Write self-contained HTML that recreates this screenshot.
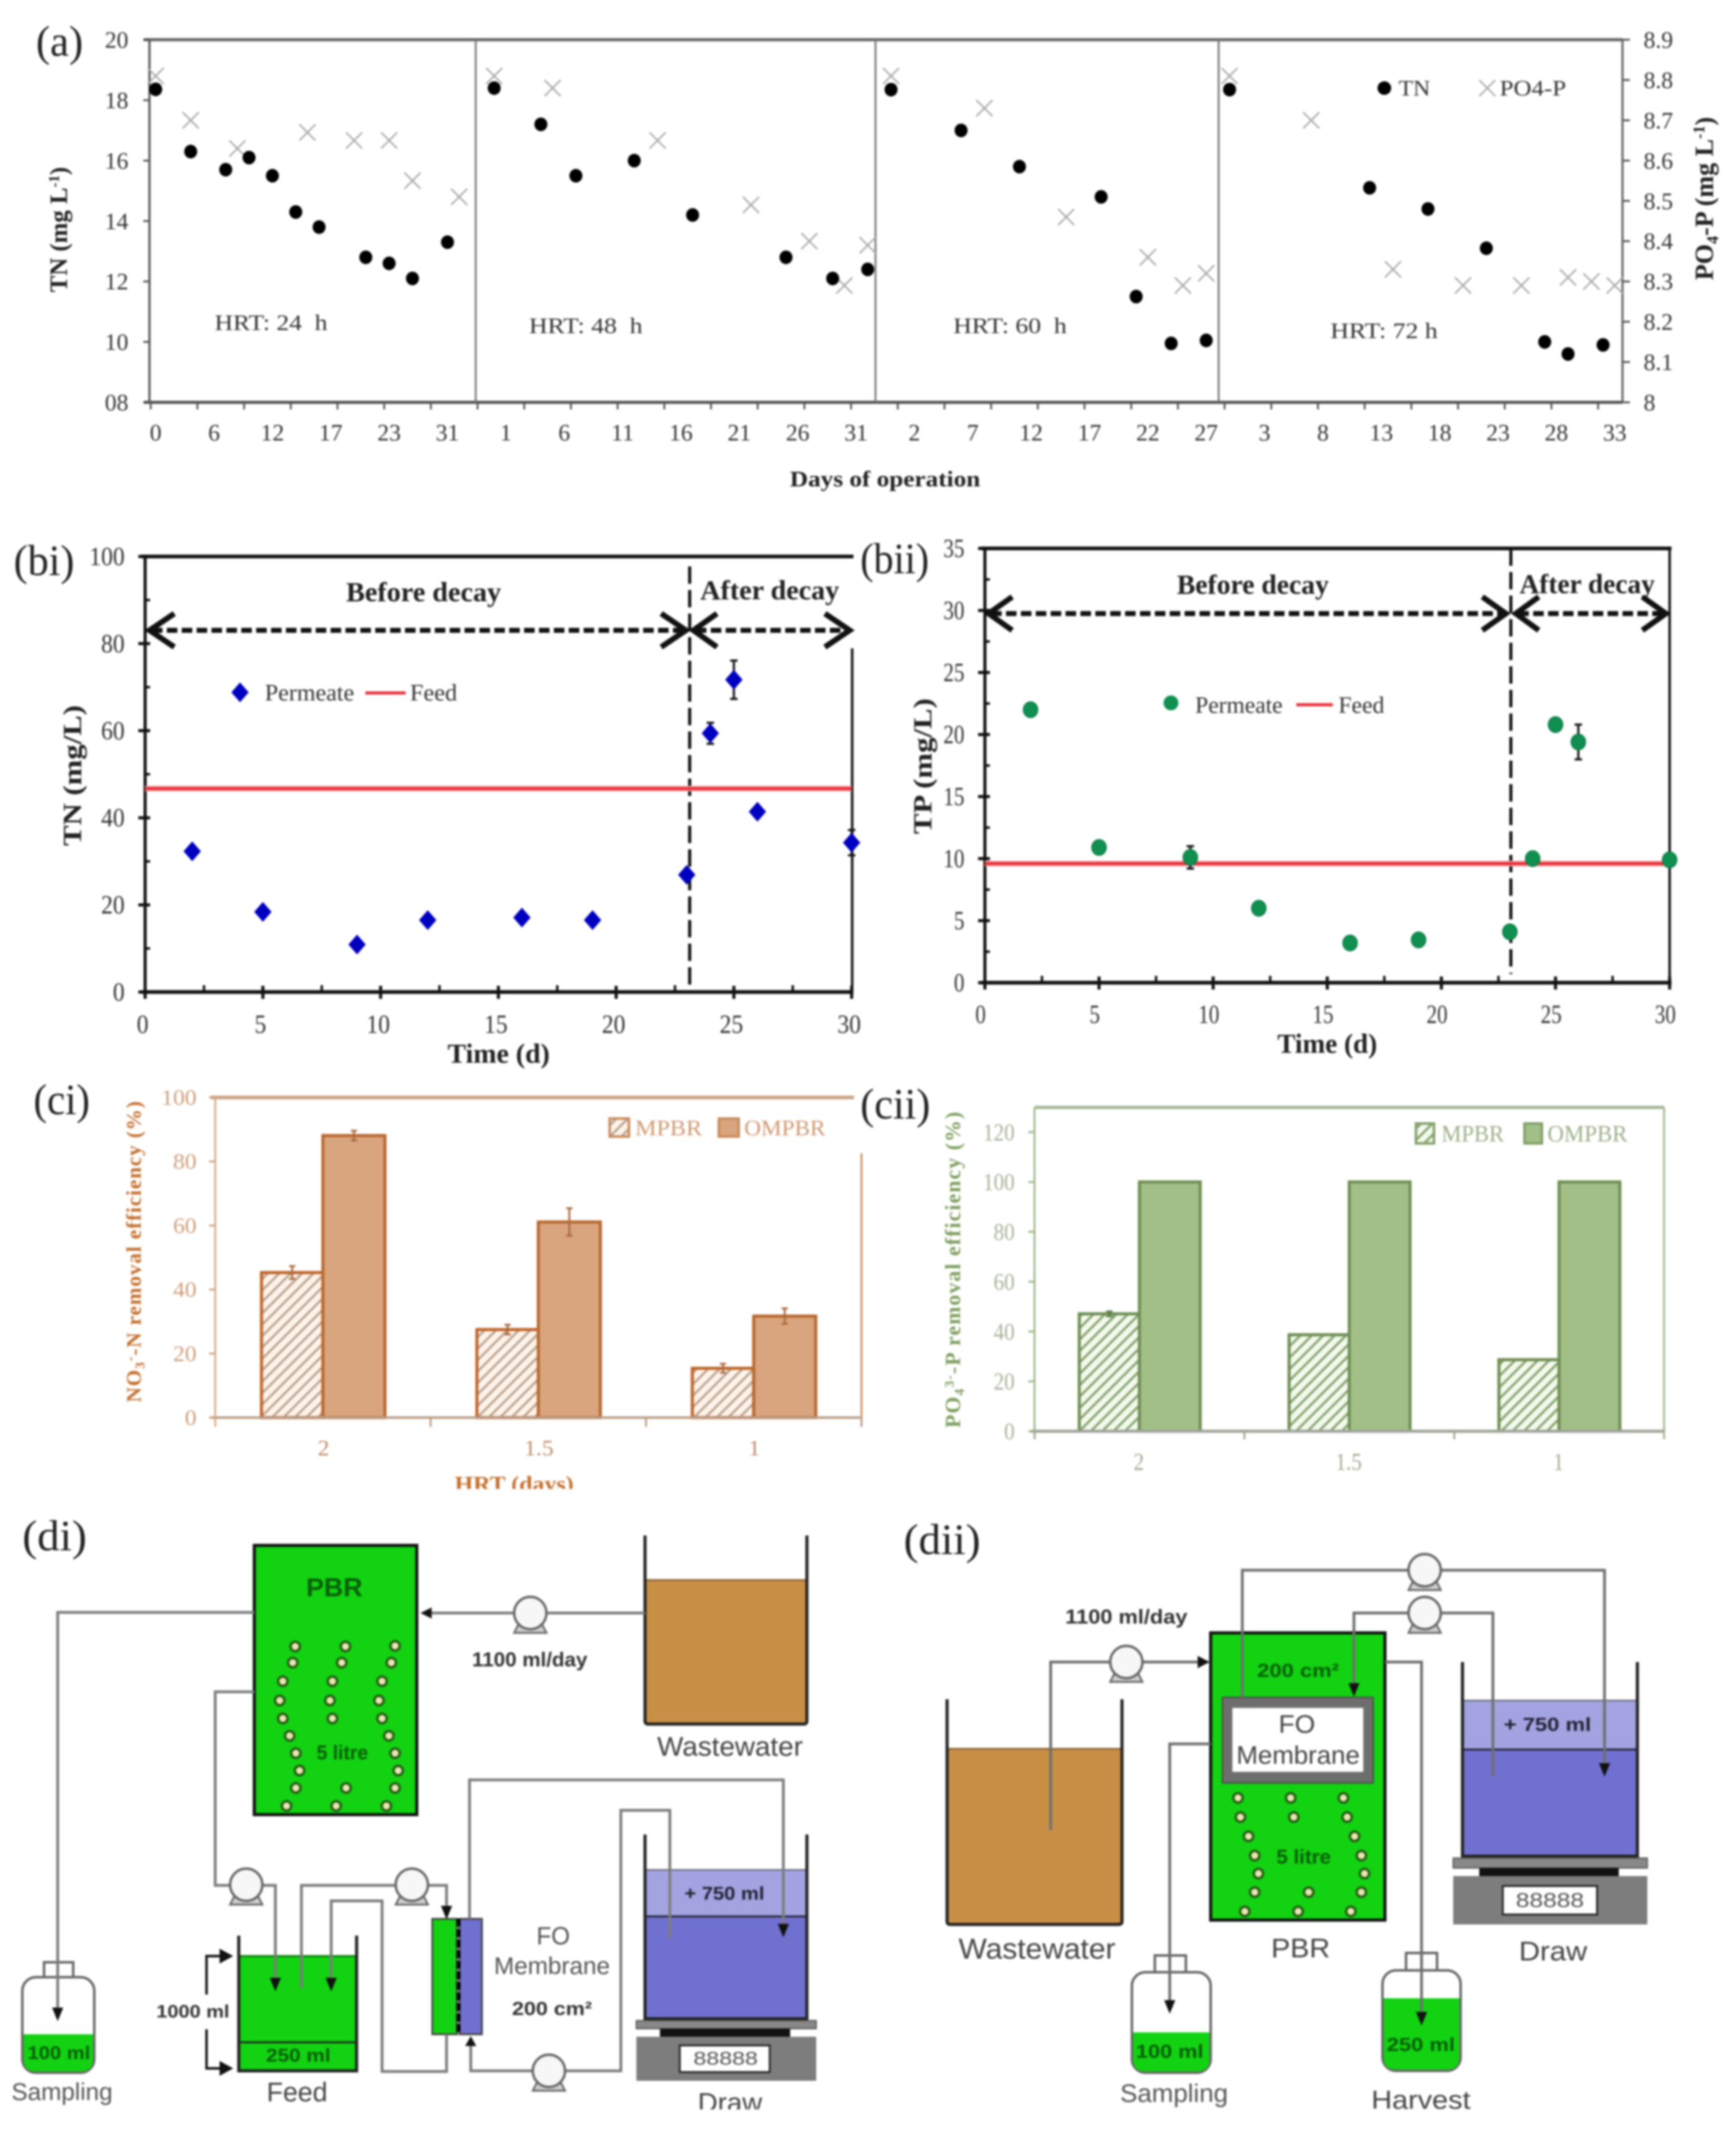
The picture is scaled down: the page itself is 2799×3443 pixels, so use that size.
<!DOCTYPE html>
<html lang="en">
<head>
<meta charset="utf-8">
<title>Nutrient removal figure</title>
<style>
html,body{margin:0;padding:0;background:#fff;}
#figure{display:block;filter:blur(1.5px);}
.serif{font-family:"Liberation Serif",serif;}
.sans{font-family:"Liberation Sans",sans-serif;}
</style>
</head>
<body>
<svg id="figure" width="2799" height="3443" viewBox="0 0 2799 3443">
<defs>
<pattern id="hatch-orange" width="13" height="13" patternUnits="userSpaceOnUse" patternTransform="rotate(45)">
<rect width="13" height="13" fill="#fdf3ea"/><rect width="3.5" height="13" fill="#b9a08c"/>
</pattern>
<pattern id="hatch-green" width="13" height="13" patternUnits="userSpaceOnUse" patternTransform="rotate(45)">
<rect width="13" height="13" fill="#f3f9ec"/><rect width="3.5" height="13" fill="#7f9f68"/>
</pattern>
<symbol id="pump" overflow="visible">
<path d="M-26,32 L-20,20 L20,20 L26,32 Z" fill="#cfcfcf" stroke="#666" stroke-width="3"/>
<ellipse cx="0" cy="0" rx="26" ry="26" fill="#f7f7f7" stroke="#666" stroke-width="4"/>
</symbol>
<symbol id="arrow-down" overflow="visible"><path d="M-9,-14 L9,-14 L0,8 Z" fill="#111"/></symbol>
</defs>

<rect x="0" y="0" width="2799" height="3443" fill="#fff"/>

<!-- PANEL A -->
<g id="panel-a">
<text class="serif" x="58" y="90" font-size="70" textLength="76" lengthAdjust="spacingAndGlyphs" fill="#222">(a)</text>
<line x1="232" y1="64" x2="2616" y2="64" stroke="#666" stroke-width="5"/>
<line x1="232" y1="648.5" x2="2616" y2="648.5" stroke="#555" stroke-width="5"/>
<line x1="241" y1="64" x2="241" y2="648" stroke="#555" stroke-width="3.5"/>
<line x1="2616" y1="64" x2="2616" y2="648" stroke="#666" stroke-width="3.5"/>
<g id="a-axes"></g>
<g id="a-marks"></g>
<text class="serif" x="346" y="532" font-size="36" textLength="182" lengthAdjust="spacingAndGlyphs" xml:space="preserve" fill="#333">HRT: 24  h</text>
<text class="serif" x="853" y="537" font-size="36" textLength="183" lengthAdjust="spacingAndGlyphs" xml:space="preserve" fill="#333">HRT: 48  h</text>
<text class="serif" x="1537" y="537" font-size="36" textLength="183" lengthAdjust="spacingAndGlyphs" xml:space="preserve" fill="#333">HRT: 60  h</text>
<text class="serif" x="2145" y="545" font-size="36" textLength="173" lengthAdjust="spacingAndGlyphs" fill="#333">HRT: 72 h</text>
<circle cx="2232" cy="142" r="11" fill="#000"/>
<text class="serif" x="2255" y="154" font-size="36" textLength="51" lengthAdjust="spacingAndGlyphs" fill="#333">TN</text>
<path d="M2385,129 L2411,155 M2411,129 L2385,155" stroke="#aaa" stroke-width="2.6" fill="none"/>
<text class="serif" x="2418" y="154" font-size="36" textLength="107" lengthAdjust="spacingAndGlyphs" fill="#333">PO4-P</text>
<text class="serif" x="1427" y="784" font-size="36" font-weight="bold" text-anchor="middle" textLength="307" lengthAdjust="spacingAndGlyphs" fill="#222">Days of operation</text>
<text class="serif" transform="translate(108,370) rotate(-90)" font-size="40" font-weight="bold" text-anchor="middle" fill="#222">TN (mg L<tspan font-size="24" dy="-13">-1</tspan><tspan dy="13">)</tspan></text>
<text class="serif" transform="translate(2762,320) rotate(-90)" font-size="42" font-weight="bold" text-anchor="middle" fill="#222">PO<tspan font-size="26" dy="8">4</tspan><tspan dy="-8">-P (mg L</tspan><tspan font-size="26" dy="-14">-1</tspan><tspan dy="14">)</tspan></text>
</g>

<!-- PANEL BI -->
<g id="panel-bi">
<text class="serif" x="22" y="927" font-size="70" textLength="98" lengthAdjust="spacingAndGlyphs" fill="#222">(bi)</text>
<line x1="228" y1="897" x2="1376" y2="897" stroke="#111" stroke-width="6"/>
<line x1="228" y1="1599" x2="1376" y2="1599" stroke="#111" stroke-width="6"/>
<line x1="234" y1="897" x2="234" y2="1599" stroke="#111" stroke-width="5"/>
<line x1="1374" y1="1045" x2="1374" y2="1599" stroke="#111" stroke-width="4"/>
<g id="bi-axes"></g>
<line x1="1112" y1="913" x2="1112" y2="1596" stroke="#111" stroke-width="5" stroke-dasharray="28 10"/>
<text class="serif" x="683" y="969" font-size="44" font-weight="bold" text-anchor="middle" textLength="250" lengthAdjust="spacingAndGlyphs" fill="#222">Before decay</text>
<text class="serif" x="1241" y="966" font-size="44" font-weight="bold" text-anchor="middle" textLength="224" lengthAdjust="spacingAndGlyphs" fill="#222">After decay</text>
<line x1="245" y1="1016" x2="1100" y2="1016" stroke="#111" stroke-width="8" stroke-dasharray="17 7"/>
<path d="M281,989 L241,1016 L281,1043" fill="none" stroke="#111" stroke-width="9"/>
<path d="M1066,989 L1106,1016 L1066,1043" fill="none" stroke="#111" stroke-width="9"/>
<line x1="1122" y1="1016" x2="1366" y2="1016" stroke="#111" stroke-width="8" stroke-dasharray="17 7"/>
<path d="M1156,989 L1118,1016 L1156,1043" fill="none" stroke="#111" stroke-width="9"/>
<path d="M1330,989 L1370,1016 L1330,1043" fill="none" stroke="#111" stroke-width="9"/>
<g id="bi-marks"></g>
<path d="M387,1100 L401,1116 L387,1132 L373,1116 Z" fill="#0000c0"/>
<text class="serif" x="427" y="1129" font-size="38" textLength="144" lengthAdjust="spacingAndGlyphs" fill="#333">Permeate</text>
<line x1="589" y1="1117" x2="654" y2="1117" stroke="#e8303a" stroke-width="5"/>
<text class="serif" x="661" y="1129" font-size="38" textLength="76" lengthAdjust="spacingAndGlyphs" fill="#333">Feed</text>
<text class="serif" x="804" y="1713" font-size="44" font-weight="bold" text-anchor="middle" textLength="165" lengthAdjust="spacingAndGlyphs" fill="#222">Time (d)</text>
<text class="serif" transform="translate(131,1250) rotate(-90)" font-size="42" font-weight="bold" text-anchor="middle" textLength="227" lengthAdjust="spacingAndGlyphs" fill="#222">TN (mg/L)</text>
</g>

<!-- PANEL BII -->
<g id="panel-bii">
<text class="serif" x="1387" y="924" font-size="70" textLength="111" lengthAdjust="spacingAndGlyphs" fill="#222">(bii)</text>
<line x1="1582" y1="884" x2="2695" y2="884" stroke="#111" stroke-width="6"/>
<line x1="1582" y1="1584" x2="2695" y2="1584" stroke="#111" stroke-width="6"/>
<line x1="1588" y1="884" x2="1588" y2="1584" stroke="#111" stroke-width="5"/>
<line x1="2692" y1="884" x2="2692" y2="1584" stroke="#111" stroke-width="4"/>
<g id="bii-axes"></g>
<line x1="2436" y1="884" x2="2436" y2="1570" stroke="#111" stroke-width="5" stroke-dasharray="28 10"/>
<text class="serif" x="2020" y="957" font-size="44" font-weight="bold" text-anchor="middle" textLength="245" lengthAdjust="spacingAndGlyphs" fill="#222">Before decay</text>
<text class="serif" x="2559" y="956" font-size="44" font-weight="bold" text-anchor="middle" textLength="218" lengthAdjust="spacingAndGlyphs" fill="#222">After decay</text>
<line x1="1598" y1="989" x2="2424" y2="989" stroke="#111" stroke-width="8" stroke-dasharray="17 7"/>
<path d="M1632,962 L1594,989 L1632,1016" fill="none" stroke="#111" stroke-width="9"/>
<path d="M2390,962 L2428,989 L2390,1016" fill="none" stroke="#111" stroke-width="9"/>
<line x1="2448" y1="989" x2="2682" y2="989" stroke="#111" stroke-width="8" stroke-dasharray="17 7"/>
<path d="M2481,962 L2444,989 L2481,1016" fill="none" stroke="#111" stroke-width="9"/>
<path d="M2648,962 L2686,989 L2648,1016" fill="none" stroke="#111" stroke-width="9"/>
<g id="bii-marks"></g>
<circle cx="1888" cy="1133" r="12" fill="#0f9050"/>
<text class="serif" x="1927" y="1149" font-size="38" textLength="141" lengthAdjust="spacingAndGlyphs" fill="#333">Permeate</text>
<line x1="2090" y1="1136" x2="2149" y2="1136" stroke="#e8303a" stroke-width="5"/>
<text class="serif" x="2158" y="1149" font-size="38" textLength="74" lengthAdjust="spacingAndGlyphs" fill="#333">Feed</text>
<text class="serif" x="2140" y="1697" font-size="44" font-weight="bold" text-anchor="middle" textLength="161" lengthAdjust="spacingAndGlyphs" fill="#222">Time (d)</text>
<text class="serif" transform="translate(1502,1235) rotate(-90)" font-size="42" font-weight="bold" text-anchor="middle" textLength="219" lengthAdjust="spacingAndGlyphs" fill="#222">TP (mg/L)</text>
</g>

<!-- PANEL CI -->
<g id="panel-ci">
<text class="serif" x="54" y="1796" font-size="70" textLength="91" lengthAdjust="spacingAndGlyphs" fill="#222">(ci)</text>
<line x1="340" y1="1769" x2="1377" y2="1769" stroke="#cba486" stroke-width="6"/>
<line x1="347" y1="1769" x2="347" y2="2300" stroke="#d9a986" stroke-width="3"/>
<line x1="1389" y1="1859" x2="1389" y2="2300" stroke="#c98d62" stroke-width="3"/>
<g id="ci-bars"></g>
<line x1="340" y1="2285" x2="1387" y2="2285" stroke="#bb9c84" stroke-width="4"/>
<g id="ci-axes"></g>
<rect x="983" y="1803" width="31" height="29" fill="url(#hatch-orange)" stroke="#c88a5c" stroke-width="4"/>
<text class="serif" x="1024" y="1830" font-size="36" textLength="108" lengthAdjust="spacingAndGlyphs" fill="#d09a72">MPBR</text>
<rect x="1159" y="1803" width="32" height="29" fill="#d9a57e" stroke="#c88a5c" stroke-width="4"/>
<text class="serif" x="1200" y="1830" font-size="36" textLength="131" lengthAdjust="spacingAndGlyphs" fill="#d09a72">OMPBR</text>
<text class="serif" x="829" y="2404" font-size="36" font-weight="bold" text-anchor="middle" textLength="192" lengthAdjust="spacingAndGlyphs" fill="#c4702f">HRT (days)</text>
<rect x="700" y="2400" width="260" height="30" fill="#fff"/>
<text class="serif" transform="translate(227,2017) rotate(-90)" font-size="34" font-weight="bold" text-anchor="middle" fill="#c4702f" letter-spacing="1.5">NO<tspan font-size="22" dy="6">3</tspan><tspan font-size="22" dy="-16">-</tspan><tspan dy="10">-N removal efficiency (%)</tspan></text>
</g>

<!-- PANEL CII -->
<g id="panel-cii">
<text class="serif" x="1387" y="1803" font-size="70" textLength="113" lengthAdjust="spacingAndGlyphs" fill="#222">(cii)</text>
<line x1="1668" y1="1785" x2="2683" y2="1785" stroke="#a3b398" stroke-width="5"/>
<line x1="1668" y1="1785" x2="1668" y2="2320" stroke="#9cb585" stroke-width="3"/>
<line x1="2683" y1="1785" x2="2683" y2="2320" stroke="#9cb585" stroke-width="3"/>
<g id="cii-bars"></g>
<line x1="1662" y1="2307" x2="2683" y2="2307" stroke="#a0a59a" stroke-width="5"/>
<g id="cii-axes"></g>
<rect x="2283" y="1811" width="29" height="32" fill="url(#hatch-green)" stroke="#7f9f68" stroke-width="4"/>
<text class="serif" x="2324" y="1840" font-size="38" textLength="101" lengthAdjust="spacingAndGlyphs" fill="#9db08a">MPBR</text>
<rect x="2458" y="1811" width="28" height="32" fill="#a2bf88" stroke="#7f9f68" stroke-width="4"/>
<text class="serif" x="2495" y="1840" font-size="38" textLength="129" lengthAdjust="spacingAndGlyphs" fill="#9db08a">OMPBR</text>
<text class="serif" transform="translate(1548,2046) rotate(-90)" font-size="35" font-weight="bold" text-anchor="middle" fill="#7f9f60" letter-spacing="1.8">PO<tspan font-size="22" dy="6">4</tspan><tspan font-size="22" dy="-16">3-</tspan><tspan dy="10">-P removal efficiency (%)</tspan></text>
</g>

<!-- PANEL DI -->
<g id="panel-di">
<text class="serif" x="36" y="2499" font-size="70" textLength="104" lengthAdjust="spacingAndGlyphs" fill="#222">(di)</text>
<rect x="410" y="2491" width="262" height="434" fill="#12d212" stroke="#111" stroke-width="5"/>
<g fill="#e8e8b0" stroke="#245a14" stroke-width="4">
<circle cx="476" cy="2654" r="7.5"/><circle cx="557" cy="2654" r="7.5"/><circle cx="637" cy="2653" r="7.5"/>
<circle cx="472" cy="2680" r="7.5"/><circle cx="551" cy="2680" r="7.5"/><circle cx="631" cy="2680" r="7.5"/>
<circle cx="456" cy="2710" r="7.5"/><circle cx="536" cy="2710" r="7.5"/><circle cx="616" cy="2710" r="7.5"/>
<circle cx="451" cy="2741" r="7.5"/><circle cx="532" cy="2741" r="7.5"/><circle cx="611" cy="2741" r="7.5"/>
<circle cx="456" cy="2770" r="7.5"/><circle cx="536" cy="2770" r="7.5"/><circle cx="616" cy="2770" r="7.5"/>
<circle cx="467" cy="2798" r="7.5"/><circle cx="627" cy="2798" r="7.5"/>
<circle cx="477" cy="2826" r="7.5"/><circle cx="637" cy="2826" r="7.5"/>
<circle cx="483" cy="2854" r="7.5"/><circle cx="642" cy="2854" r="7.5"/>
<circle cx="477" cy="2882" r="7.5"/><circle cx="558" cy="2882" r="7.5"/><circle cx="637" cy="2882" r="7.5"/>
<circle cx="462" cy="2911" r="7.5"/><circle cx="542" cy="2911" r="7.5"/><circle cx="623" cy="2911" r="7.5"/>
</g>
<text class="sans" x="539" y="2573" font-size="42" font-weight="bold" text-anchor="middle" textLength="91" lengthAdjust="spacingAndGlyphs" fill="#0a5f0a">PBR</text>
<text class="sans" x="552" y="2836" font-size="32" font-weight="bold" text-anchor="middle" textLength="83" lengthAdjust="spacingAndGlyphs" fill="#0a5f0a">5 litre</text>

<rect x="1040" y="2546" width="261" height="233" fill="#c98f46"/>
<line x1="1040" y1="2547" x2="1301" y2="2547" stroke="#8d6534" stroke-width="3"/>
<path d="M1040,2475 L1040,2774 Q1040,2779 1045,2779 L1296,2779 Q1301,2779 1301,2774 L1301,2475" fill="none" stroke="#222" stroke-width="5"/>
<text class="sans" x="1177" y="2830" font-size="44" text-anchor="middle" textLength="235" lengthAdjust="spacingAndGlyphs" fill="#444">Wastewater</text>
<text class="sans" x="854" y="2686" font-size="32" font-weight="bold" text-anchor="middle" textLength="186" lengthAdjust="spacingAndGlyphs" fill="#333">1100 ml/day</text>

<rect x="385" y="3152" width="190" height="186" fill="#12d212"/>
<line x1="385" y1="3292" x2="575" y2="3292" stroke="#222" stroke-width="3"/>
<line x1="385" y1="3153" x2="575" y2="3153" stroke="#0a7a0a" stroke-width="3"/>
<path d="M385,3120 L385,3338 L575,3338 L575,3120" fill="none" stroke="#222" stroke-width="5"/>
<text class="sans" x="481" y="3323" font-size="30" font-weight="bold" text-anchor="middle" textLength="104" lengthAdjust="spacingAndGlyphs" fill="#0a5f0a">250 ml</text>
<text class="sans" x="479" y="3387" font-size="44" text-anchor="middle" textLength="98" lengthAdjust="spacingAndGlyphs" fill="#444">Feed</text>
<text class="sans" x="311" y="3252" font-size="29" font-weight="bold" text-anchor="middle" textLength="118" lengthAdjust="spacingAndGlyphs" fill="#333">1000 ml</text>
<path d="M333,3215 L333,3153 L360,3153" fill="none" stroke="#111" stroke-width="4"/>
<path d="M354,3141 L376,3153 L354,3165 Z" fill="#111"/>
<path d="M333,3271 L333,3334 L360,3334" fill="none" stroke="#111" stroke-width="4"/>
<path d="M354,3322 L376,3334 L354,3346 Z" fill="#111"/>

<rect x="71" y="3163" width="47" height="24" fill="#fff" stroke="#666" stroke-width="4"/>
<rect x="36" y="3187" width="116" height="154" rx="22" fill="#fff" stroke="#666" stroke-width="4"/>
<path d="M38,3279 L150,3279 L150,3320 Q150,3339 130,3339 L58,3339 Q38,3339 38,3320 Z" fill="#12d212"/>
<text class="sans" x="95" y="3319" font-size="30" font-weight="bold" text-anchor="middle" textLength="101" lengthAdjust="spacingAndGlyphs" fill="#0a5f0a">100 ml</text>
<text class="sans" x="100" y="3385" font-size="39" text-anchor="middle" textLength="163" lengthAdjust="spacingAndGlyphs" fill="#555">Sampling</text>

<rect x="1040" y="3013" width="261" height="76" fill="#a3a3e2"/>
<rect x="1040" y="3089" width="261" height="165" fill="#7070d0"/>
<line x1="1040" y1="3089" x2="1301" y2="3089" stroke="#223" stroke-width="3"/>
<line x1="1040" y1="3014" x2="1301" y2="3014" stroke="#556" stroke-width="2"/>
<path d="M1040,2957 L1040,3254 L1301,3254 L1301,2957" fill="none" stroke="#222" stroke-width="5"/>
<text class="sans" x="1168" y="3062" font-size="30" font-weight="bold" text-anchor="middle" textLength="129" lengthAdjust="spacingAndGlyphs" fill="#223">+ 750 ml</text>
<rect x="1026" y="3257" width="290" height="13" fill="#888" stroke="#555" stroke-width="2"/>
<rect x="1064" y="3270" width="210" height="13" fill="#111"/>
<rect x="1026" y="3283" width="290" height="71" fill="#7d7d7d"/>
<rect x="1096" y="3297" width="145" height="43" fill="#fff" stroke="#222" stroke-width="3"/>
<text class="sans" x="1170" y="3328" font-size="30" text-anchor="middle" textLength="104" lengthAdjust="spacingAndGlyphs" fill="#555">88888</text>
<text class="sans" x="1177" y="3404" font-size="44" text-anchor="middle" textLength="104" lengthAdjust="spacingAndGlyphs" fill="#444">Draw</text>

<rect x="697" y="3093" width="40" height="186" fill="#12d212" stroke="#444" stroke-width="3"/>
<rect x="741" y="3093" width="36" height="186" fill="#7070d0" stroke="#444" stroke-width="3"/>
<line x1="739" y1="3093" x2="739" y2="3279" stroke="#000" stroke-width="7" stroke-dasharray="12 5"/>
<text class="sans" x="892" y="3134" font-size="40" text-anchor="middle" textLength="54" lengthAdjust="spacingAndGlyphs" fill="#555">FO</text>
<text class="sans" x="890" y="3182" font-size="39" text-anchor="middle" textLength="187" lengthAdjust="spacingAndGlyphs" fill="#555">Membrane</text>
<text class="sans" x="890" y="3248" font-size="31" font-weight="bold" text-anchor="middle" textLength="129" lengthAdjust="spacingAndGlyphs" fill="#333">200 cm²</text>

<g fill="none" stroke="#7c7c7c" stroke-width="4.5">
<path d="M410,2599 L93,2599 L93,3250"/>
<path d="M410,2727 L347,2727 L347,3039 L444,3039 L444,3202"/>
<path d="M1040,2600 L684,2600"/>
<path d="M486,3205 L486,3039 L720,3039 L720,3086"/>
<path d="M534,3202 L534,3064 L616,3064 L616,3339 L720,3339 L720,3279"/>
<path d="M757,3093 L757,2869 L1263,2869 L1263,3115"/>
<path d="M759,3289 L759,3338 L1001,3338 L1001,2918 L1080,2918 L1080,3124"/>
</g>
<use href="#arrow-down" x="93" y="3250"/>
<use href="#arrow-down" x="444" y="3202"/>
<use href="#arrow-down" x="534" y="3202"/>
<use href="#arrow-down" x="720" y="3086"/>
<use href="#arrow-down" x="1263" y="3115"/>
<path d="M678,2600 L696,2591 L696,2609 Z" fill="#111"/>
<path d="M759,3282 L750,3298 L768,3298 Z" fill="#111"/>
<use href="#pump" x="855" y="2600"/>
<use href="#pump" x="397" y="3038"/>
<use href="#pump" x="664" y="3038"/>
<use href="#pump" x="885" y="3338"/>
</g>

<!-- PANEL DII -->
<g id="panel-dii">
<text class="serif" x="1457" y="2505" font-size="70" textLength="124" lengthAdjust="spacingAndGlyphs" fill="#222">(dii)</text>
<rect x="1527" y="2818" width="282" height="284" fill="#c98f46"/>
<line x1="1527" y1="2819" x2="1809" y2="2819" stroke="#8d6534" stroke-width="3"/>
<path d="M1527,2739 L1527,3097 Q1527,3102 1532,3102 L1804,3102 Q1809,3102 1809,3097 L1809,2739" fill="none" stroke="#222" stroke-width="5"/>
<text class="sans" x="1672" y="3157" font-size="46" text-anchor="middle" textLength="253" lengthAdjust="spacingAndGlyphs" fill="#444">Wastewater</text>
<text class="sans" x="1816" y="2617" font-size="32" font-weight="bold" text-anchor="middle" textLength="197" lengthAdjust="spacingAndGlyphs" fill="#333">1100 ml/day</text>

<rect x="1952" y="2632" width="281" height="463" fill="#12d212" stroke="#111" stroke-width="5"/>
<rect x="1971" y="2736" width="243" height="138" fill="#6e6e6e" stroke="#444" stroke-width="2"/>
<rect x="1987" y="2753" width="211" height="103" fill="#fff"/>
<text class="sans" x="2091" y="2793" font-size="41" text-anchor="middle" textLength="59" lengthAdjust="spacingAndGlyphs" fill="#444">FO</text>
<text class="sans" x="2093" y="2843" font-size="41" text-anchor="middle" textLength="199" lengthAdjust="spacingAndGlyphs" fill="#444">Membrane</text>
<text class="sans" x="2093" y="2703" font-size="31" font-weight="bold" text-anchor="middle" textLength="132" lengthAdjust="spacingAndGlyphs" fill="#0a5f0a">200 cm²</text>
<g fill="#e8e8b0" stroke="#245a14" stroke-width="4">
<circle cx="1996" cy="2898" r="7.5"/><circle cx="2081" cy="2898" r="7.5"/><circle cx="2166" cy="2898" r="7.5"/>
<circle cx="2000" cy="2929" r="7.5"/><circle cx="2086" cy="2929" r="7.5"/><circle cx="2172" cy="2929" r="7.5"/>
<circle cx="2013" cy="2960" r="7.5"/><circle cx="2184" cy="2960" r="7.5"/>
<circle cx="2023" cy="2991" r="7.5"/><circle cx="2195" cy="2991" r="7.5"/>
<circle cx="2029" cy="3020" r="7.5"/><circle cx="2200" cy="3020" r="7.5"/>
<circle cx="2023" cy="3050" r="7.5"/><circle cx="2110" cy="3050" r="7.5"/><circle cx="2195" cy="3050" r="7.5"/>
<circle cx="2007" cy="3081" r="7.5"/><circle cx="2093" cy="3081" r="7.5"/><circle cx="2178" cy="3081" r="7.5"/>
</g>
<text class="sans" x="2102" y="3004" font-size="32" font-weight="bold" text-anchor="middle" textLength="88" lengthAdjust="spacingAndGlyphs" fill="#0a5f0a">5 litre</text>
<text class="sans" x="2097" y="3155" font-size="44" text-anchor="middle" textLength="95" lengthAdjust="spacingAndGlyphs" fill="#444">PBR</text>

<rect x="2358" y="2740" width="282" height="80" fill="#a3a3e2"/>
<rect x="2358" y="2820" width="282" height="172" fill="#7070d0"/>
<line x1="2358" y1="2820" x2="2640" y2="2820" stroke="#223" stroke-width="3"/>
<line x1="2358" y1="2741" x2="2640" y2="2741" stroke="#556" stroke-width="2"/>
<path d="M2358,2679 L2358,2992 L2640,2992 L2640,2679" fill="none" stroke="#222" stroke-width="5"/>
<text class="sans" x="2495" y="2790" font-size="31" font-weight="bold" text-anchor="middle" textLength="141" lengthAdjust="spacingAndGlyphs" fill="#223">+ 750 ml</text>
<rect x="2343" y="2995" width="313" height="16" fill="#888" stroke="#555" stroke-width="2"/>
<rect x="2385" y="3011" width="225" height="13" fill="#111"/>
<rect x="2343" y="3024" width="313" height="78" fill="#7d7d7d"/>
<rect x="2423" y="3040" width="152" height="46" fill="#fff" stroke="#222" stroke-width="3"/>
<text class="sans" x="2499" y="3074" font-size="32" text-anchor="middle" textLength="110" lengthAdjust="spacingAndGlyphs" fill="#555">88888</text>
<text class="sans" x="2504" y="3160" font-size="44" text-anchor="middle" textLength="110" lengthAdjust="spacingAndGlyphs" fill="#444">Draw</text>

<rect x="1862" y="3152" width="50" height="27" fill="#fff" stroke="#666" stroke-width="4"/>
<rect x="1825" y="3179" width="127" height="162" rx="22" fill="#fff" stroke="#666" stroke-width="4"/>
<path d="M1827,3276 L1950,3276 L1950,3320 Q1950,3339 1930,3339 L1847,3339 Q1827,3339 1827,3320 Z" fill="#12d212"/>
<text class="sans" x="1886" y="3317" font-size="31" font-weight="bold" text-anchor="middle" textLength="109" lengthAdjust="spacingAndGlyphs" fill="#0a5f0a">100 ml</text>
<text class="sans" x="1893" y="3388" font-size="41" text-anchor="middle" textLength="174" lengthAdjust="spacingAndGlyphs" fill="#555">Sampling</text>

<rect x="2267" y="3148" width="50" height="28" fill="#fff" stroke="#666" stroke-width="4"/>
<rect x="2229" y="3176" width="126" height="162" rx="22" fill="#fff" stroke="#666" stroke-width="4"/>
<path d="M2231,3221 L2353,3221 L2353,3317 Q2353,3336 2333,3336 L2251,3336 Q2231,3336 2231,3317 Z" fill="#12d212"/>
<text class="sans" x="2291" y="3306" font-size="31" font-weight="bold" text-anchor="middle" textLength="110" lengthAdjust="spacingAndGlyphs" fill="#0a5f0a">250 ml</text>
<text class="sans" x="2291" y="3399" font-size="42" text-anchor="middle" textLength="160" lengthAdjust="spacingAndGlyphs" fill="#444">Harvest</text>

<g fill="none" stroke="#6f6f6f" stroke-width="4.5">
<path d="M1694,2950 L1694,2679 L1948,2679"/>
<path d="M2003,2736 L2003,2531 L2587,2531 L2587,2856"/>
<path d="M2183,2724 L2183,2600 L2407,2600 L2407,2863"/>
<path d="M1952,2811 L1886,2811 L1886,3238"/>
<path d="M2233,2679 L2292,2679 L2292,3257"/>
</g>
<path d="M1950,2679 L1931,2669 L1931,2689 Z" fill="#111"/>
<use href="#arrow-down" x="2183" y="2727"/>
<use href="#arrow-down" x="2587" y="2856"/>
<use href="#arrow-down" x="1886" y="3238"/>
<use href="#arrow-down" x="2292" y="3257"/>
<use href="#pump" x="1816" y="2679"/>
<use href="#pump" x="2297" y="2531"/>
<use href="#pump" x="2297" y="2600"/>
</g>
<rect x="0" y="3400" width="2799" height="43" fill="#fff"/>
</svg>

<script>
// ---------- Panel (a) data ----------
const aTnIndex = [0,3,6,8,10,12,14,18,20,22,25, 29,33,36,41,46,54,58,61, 63,69,74,81,84,87,90, 92,104,109,114,119,121,124];
const aTnValues = [18.36,16.3,15.7,16.1,15.5,14.3,13.8,12.8,12.6,12.1,13.3, 18.4,17.2,15.5,16.0,14.2,12.8,12.1,12.4, 18.35,17.0,15.8,14.8,11.5,9.95,10.05, 18.35,15.1,14.4,13.1,10.0,9.6,9.9];
const aPoIndex = [0,3,7,13,17,20,22,26, 29,34,43,51,56,59,61, 63,71,78,85,88,90, 92,99,106,112,117,121,123,125];
const aPoValues = [8.81,8.70,8.63,8.67,8.65,8.65,8.55,8.51, 8.81,8.78,8.65,8.49,8.40,8.29,8.39, 8.81,8.73,8.46,8.36,8.29,8.32, 8.81,8.70,8.33,8.29,8.29,8.31,8.30,8.29];
const aXLabels = ['0','6','12','17','23','31','1','6','11','16','21','26','31','2','7','12','17','22','27','3','8','13','18','23','28','33'];
const aLeftTicks = [8,10,12,14,16,18,20];
const aLeftLabels = ['08','10','12','14','16','18','20'];
const aRightTicks = [8,8.1,8.2,8.3,8.4,8.5,8.6,8.7,8.8,8.9];
const aBoundaries = [27.95,62.2,91.6];

// ---------- Panel (bi) data ----------
const biTimes = [2,5,9,12,16,19,23,24,25,26,30];
const biPermeate = [32.3,18.4,10.9,16.5,17.1,16.5,26.9,59.4,71.7,41.4,34.3];
const biErrors = [1,1,1,1,1,1,1,2.4,4.4,1,2.9];
const biFeed = [46.7];
const biYTicks = [0,20,40,60,80,100];
const biYMinor = [10,30,50,70,90];
const biXTicks = [0,5,10,15,20,25,30];
const biXMinor = [2.5,7.5,12.5,17.5,22.5,27.5];

// ---------- Panel (bii) data ----------
const biiTimes = [2,5,9,12,16,19,23,24,25,26,30];
const biiPermeate = [22.0,10.9,10.1,6.0,3.2,3.45,4.1,10.0,20.8,19.4,9.9];
const biiErrors = [0.3,0.2,0.9,0.2,0.2,0.2,0.2,0.2,0.2,1.4,0.2];
const biiFeed = [9.6];
const biiYTicks = [0,5,10,15,20,25,30,35];
const biiYMinor = [2.5,7.5,12.5,17.5,22.5,27.5,32.5];
const biiXTicks = [0,5,10,15,20,25,30];
const biiXMinor = [2.5,7.5,12.5,17.5,22.5,27.5];

// ---------- Panel (ci) data ----------
const ciCategories = ['2','1.5','1'];
const ciMpbr = [45.3,27.5,15.4];
const ciOmpbr = [88.1,61.1,31.7];
const ciMpbrErr = [2,1.5,1.4];
const ciOmpbrErr = [1.5,4.3,2.4];
const ciTicks = [0,20,40,60,80,100];

// ---------- Panel (cii) data ----------
const ciiCategories = ['2','1.5','1'];
const ciiMpbr = [47.1,38.7,28.7];
const ciiOmpbr = [100,100,100];
const ciiMpbrErr = [1,0,0];
const ciiTicks = [0,20,40,60,80,100,120];

// ---------- Axis functions ----------
function aX(i){return 251+18.82*i;}
function aEdge(c){return 241+18.82*c;}
function aYL(v){return 648.5-(v-8)*48.7;}
function aYR(v){return 648.5-(v-8)*649.4;}
function biX(t){return 234+37.97*t;}
function biY(v){return 1599-7.02*v;}
function biiX(t){return 1588+36.8*t;}
function biiY(v){return 1584-20*v;}
function ciGroup(g){return 347+347.3*(g+0.5);}
function ciY(v){return 2285-5.16*v;}
function ciiGroup(g){return 1668+338.3*(g+0.5);}
function ciiY(v){return 2307-4.018*v;}

const svgRoot = document.getElementById('figure');
const NS = svgRoot.namespaceURI;
function mk(parentId,tag,attrs){
  const node=document.createElementNS(NS,tag);
  for(const k in attrs){node.setAttribute(k,attrs[k]);}
  document.getElementById(parentId).appendChild(node);
  return node;
}
function label(parentId,x,y,s,size,anchor,fill,charW){
  const node=mk(parentId,'text',{x:x,y:y,'font-size':size,'text-anchor':anchor,fill:fill,'font-family':'"Liberation Serif",serif'});
  node.textContent=s;
  if(charW){
    const units=s.replace('.','').length+(s.indexOf('.')>=0?0.5:0);
    node.setAttribute('textLength',units*charW);
    node.setAttribute('lengthAdjust','spacingAndGlyphs');
  }
  return node;
}

// ---------- Draw panel (a) ----------
aLeftTicks.forEach(function(v,i){
  const tick=mk('a-axes','line',{x1:231,x2:241,y1:aYL(v),y2:aYL(v),stroke:'#555','stroke-width':3});
  
  
  const t=label('a-axes',207,aYL(v)+13,aLeftLabels[i],38,'end','#333');
  
  
});
aRightTicks.forEach(function(v){
  const tick=mk('a-axes','line',{x1:2616,x2:2628,y1:aYR(v),y2:aYR(v),stroke:'#555','stroke-width':3});
  
  
  const t=label('a-axes',2650,aYR(v)+13,String(v),38,'start','#333');
  
  
});
for(let c=0;c<=124;c+=4){
  const tick=mk('a-axes','line',{x1:aEdge(c)+2,x2:aEdge(c)+2,y1:648,y2:660,stroke:'#555','stroke-width':3});
  
  
}
aXLabels.forEach(function(s,i){
  const t=label('a-axes',aX(i*5),710,s,38,'middle','#333');
  
  
});
aBoundaries.forEach(function(c){
  const sep=mk('a-axes','line',{x1:aEdge(c),x2:aEdge(c),y1:64,y2:648,stroke:'#777','stroke-width':3});
  
  
});
aPoIndex.forEach(function(ix,k){
  const px=aX(ix), py=aYR(aPoValues[k]);
  const m=mk('a-marks','path',{d:'M'+(px-13)+','+(py-13)+' L'+(px+13)+','+(py+13)+' M'+(px+13)+','+(py-13)+' L'+(px-13)+','+(py+13),stroke:'#aaa','stroke-width':2.6,fill:'none'});
  
  
});
aTnIndex.forEach(function(ix,k){
  const m=mk('a-marks','ellipse',{cx:aX(ix),cy:aYL(aTnValues[k]),rx:10.5,ry:11,fill:'#000'});
  
  
});

// ---------- Shared axes for panels (bi) and (bii) ----------
function drawScatterAxes(gid,xf,yf,yTicks,yMinor,xTicks,xMinor,axisX,axisY,ySize,yLabelX,xLabelY,charW,xShift){
  yTicks.forEach(function(v){
    const tick=mk(gid,'line',{x1:axisX-11,x2:axisX+8,y1:yf(v),y2:yf(v),stroke:'#111','stroke-width':5});
    
    
    const t=label(gid,yLabelX,yf(v)+14,String(v),ySize,'end','#333',charW);
    
    
  });
  yMinor.forEach(function(v){
    const tick=mk(gid,'line',{x1:axisX,x2:axisX+8,y1:yf(v),y2:yf(v),stroke:'#111','stroke-width':4});
    
    
  });
  xTicks.forEach(function(v){
    const tick=mk(gid,'line',{x1:xf(v),x2:xf(v),y1:axisY-10,y2:axisY+11,stroke:'#111','stroke-width':5});
    
    
    const t=label(gid,xf(v)+xShift,xLabelY,String(v),ySize,'middle','#333',charW);
    
    
  });
  xMinor.forEach(function(v){
    const tick=mk(gid,'line',{x1:xf(v),x2:xf(v),y1:axisY-11,y2:axisY,stroke:'#111','stroke-width':4});
    
    
  });
}
function drawErrors(gid,xf,yf,times,vals,errs){
  times.forEach(function(t,k){
    const px=xf(t), hi=yf(vals[k]+errs[k]), lo=yf(vals[k]-errs[k]);
    const e=mk(gid,'path',{d:'M'+px+','+hi+' L'+px+','+lo+' M'+(px-6)+','+hi+' L'+(px+6)+','+hi+' M'+(px-6)+','+lo+' L'+(px+6)+','+lo,stroke:'#111','stroke-width':3.5,fill:'none'});
    
    
  });
}

// ---------- Draw panel (bi) ----------
drawScatterAxes('bi-axes',biX,biY,biYTicks,biYMinor,biXTicks,biXMinor,234,1599,42,201,1665,19,-4);
const biFeedGlow=mk('bi-marks','line',{x1:biX(0),x2:biX(30),y1:biY(biFeed[0]),y2:biY(biFeed[0]),stroke:'#f6a0a6','stroke-width':9});


const biFeedLine=mk('bi-marks','line',{x1:biX(0),x2:biX(30),y1:biY(biFeed[0]),y2:biY(biFeed[0]),stroke:'#e8303a','stroke-width':5});


drawErrors('bi-marks',biX,biY,biTimes,biPermeate,biErrors);
biTimes.forEach(function(t,k){
  const px=biX(t), py=biY(biPermeate[k]);
  const m=mk('bi-marks','path',{d:'M'+px+','+(py-16)+' L'+(px+14)+','+py+' L'+px+','+(py+16)+' L'+(px-14)+','+py+' Z',fill:'#0000c0'});
  
  
});

// ---------- Draw panel (bii) ----------
drawScatterAxes('bii-axes',biiX,biiY,biiYTicks,biiYMinor,biiXTicks,biiXMinor,1588,1584,42,1555,1649,17,-7);
const biiFeedGlow=mk('bii-marks','line',{x1:biiX(0),x2:biiX(30),y1:biiY(biiFeed[0]),y2:biiY(biiFeed[0]),stroke:'#f6a0a6','stroke-width':9});


const biiFeedLine=mk('bii-marks','line',{x1:biiX(0),x2:biiX(30),y1:biiY(biiFeed[0]),y2:biiY(biiFeed[0]),stroke:'#e8303a','stroke-width':5});


drawErrors('bii-marks',biiX,biiY,biiTimes,biiPermeate,biiErrors);
biiTimes.forEach(function(t,k){
  const m=mk('bii-marks','ellipse',{cx:biiX(t),cy:biiY(biiPermeate[k]),rx:11.5,ry:12.5,fill:'#0f9050',stroke:'#0c7c46','stroke-width':2});
  
  
});

// ---------- Draw panel (ci) ----------
ciTicks.forEach(function(v){
  const tick=mk('ci-axes','line',{x1:337,x2:347,y1:ciY(v),y2:ciY(v),stroke:'#c9a282','stroke-width':3});
  
  
  const t=label('ci-axes',317,ciY(v)+12,String(v),36,'end','#cf9f7a',19);
  
  
});
ciCategories.forEach(function(c,g){
  const edge=mk('ci-axes','line',{x1:ciGroup(g)+173.6,x2:ciGroup(g)+173.6,y1:2285,y2:2300,stroke:'#b99a80','stroke-width':3});
  
  
  const t=label('ci-axes',ciGroup(g)+1,2346,c,36,'middle','#c08e68',19);
  
  
  const m=mk('ci-bars','rect',{x:ciGroup(g)-99,y:ciY(ciMpbr[g]),width:99,height:ciY(0)-ciY(ciMpbr[g]),fill:'url(#hatch-orange)',stroke:'#c0662a','stroke-width':5});
  
  
  const o=mk('ci-bars','rect',{x:ciGroup(g),y:ciY(ciOmpbr[g]),width:100,height:ciY(0)-ciY(ciOmpbr[g]),fill:'#d9a57e',stroke:'#b9682f','stroke-width':5});
  
  
  const mx=ciGroup(g)-49.5, mh=ciY(ciMpbr[g]+ciMpbrErr[g]), ml=ciY(ciMpbr[g]-ciMpbrErr[g]);
  const me=mk('ci-bars','path',{d:'M'+mx+','+mh+' L'+mx+','+ml+' M'+(mx-5)+','+mh+' L'+(mx+5)+','+mh+' M'+(mx-5)+','+ml+' L'+(mx+5)+','+ml,stroke:'#a8683a','stroke-width':3,fill:'none'});
  
  
  const ox=ciGroup(g)+50, oh=ciY(ciOmpbr[g]+ciOmpbrErr[g]), ol=ciY(ciOmpbr[g]-ciOmpbrErr[g]);
  const oe=mk('ci-bars','path',{d:'M'+ox+','+oh+' L'+ox+','+ol+' M'+(ox-5)+','+oh+' L'+(ox+5)+','+oh+' M'+(ox-5)+','+ol+' L'+(ox+5)+','+ol,stroke:'#a8683a','stroke-width':3,fill:'none'});
  
  
});

// ---------- Draw panel (cii) ----------
ciiTicks.forEach(function(v){
  const tick=mk('cii-axes','line',{x1:1658,x2:1668,y1:ciiY(v),y2:ciiY(v),stroke:'#9cb585','stroke-width':3});
  
  
  const t=label('cii-axes',1636,ciiY(v)+13,String(v),39,'end','#a7b399',17);
  
  
});
ciiCategories.forEach(function(c,g){
  const edge=mk('cii-axes','line',{x1:ciiGroup(g)-169,x2:ciiGroup(g)-169,y1:2307,y2:2320,stroke:'#9aa88a','stroke-width':3});
  
  
  const t=label('cii-axes',ciiGroup(g)-1,2369,c,39,'middle','#a0ad90',17);
  
  
  const m=mk('cii-bars','rect',{x:ciiGroup(g)-97,y:ciiY(ciiMpbr[g]),width:97,height:ciiY(0)-ciiY(ciiMpbr[g]),fill:'url(#hatch-green)',stroke:'#6f8f55','stroke-width':5});
  
  
  const o=mk('cii-bars','rect',{x:ciiGroup(g),y:ciiY(ciiOmpbr[g]),width:98,height:ciiY(0)-ciiY(ciiOmpbr[g]),fill:'#a2bf88',stroke:'#6f8f55','stroke-width':5});
  
  
  if(ciiMpbrErr[g]>0){
    const mx=ciiGroup(g)-48.5, mh=ciiY(ciiMpbr[g]+ciiMpbrErr[g]), ml=ciiY(ciiMpbr[g]-ciiMpbrErr[g]);
    const me=mk('cii-bars','path',{d:'M'+mx+','+mh+' L'+mx+','+ml+' M'+(mx-5)+','+mh+' L'+(mx+5)+','+mh+' M'+(mx-5)+','+ml+' L'+(mx+5)+','+ml,stroke:'#5f7f47','stroke-width':3,fill:'none'});
    
    
  }
});
</script>
</body>
</html>
